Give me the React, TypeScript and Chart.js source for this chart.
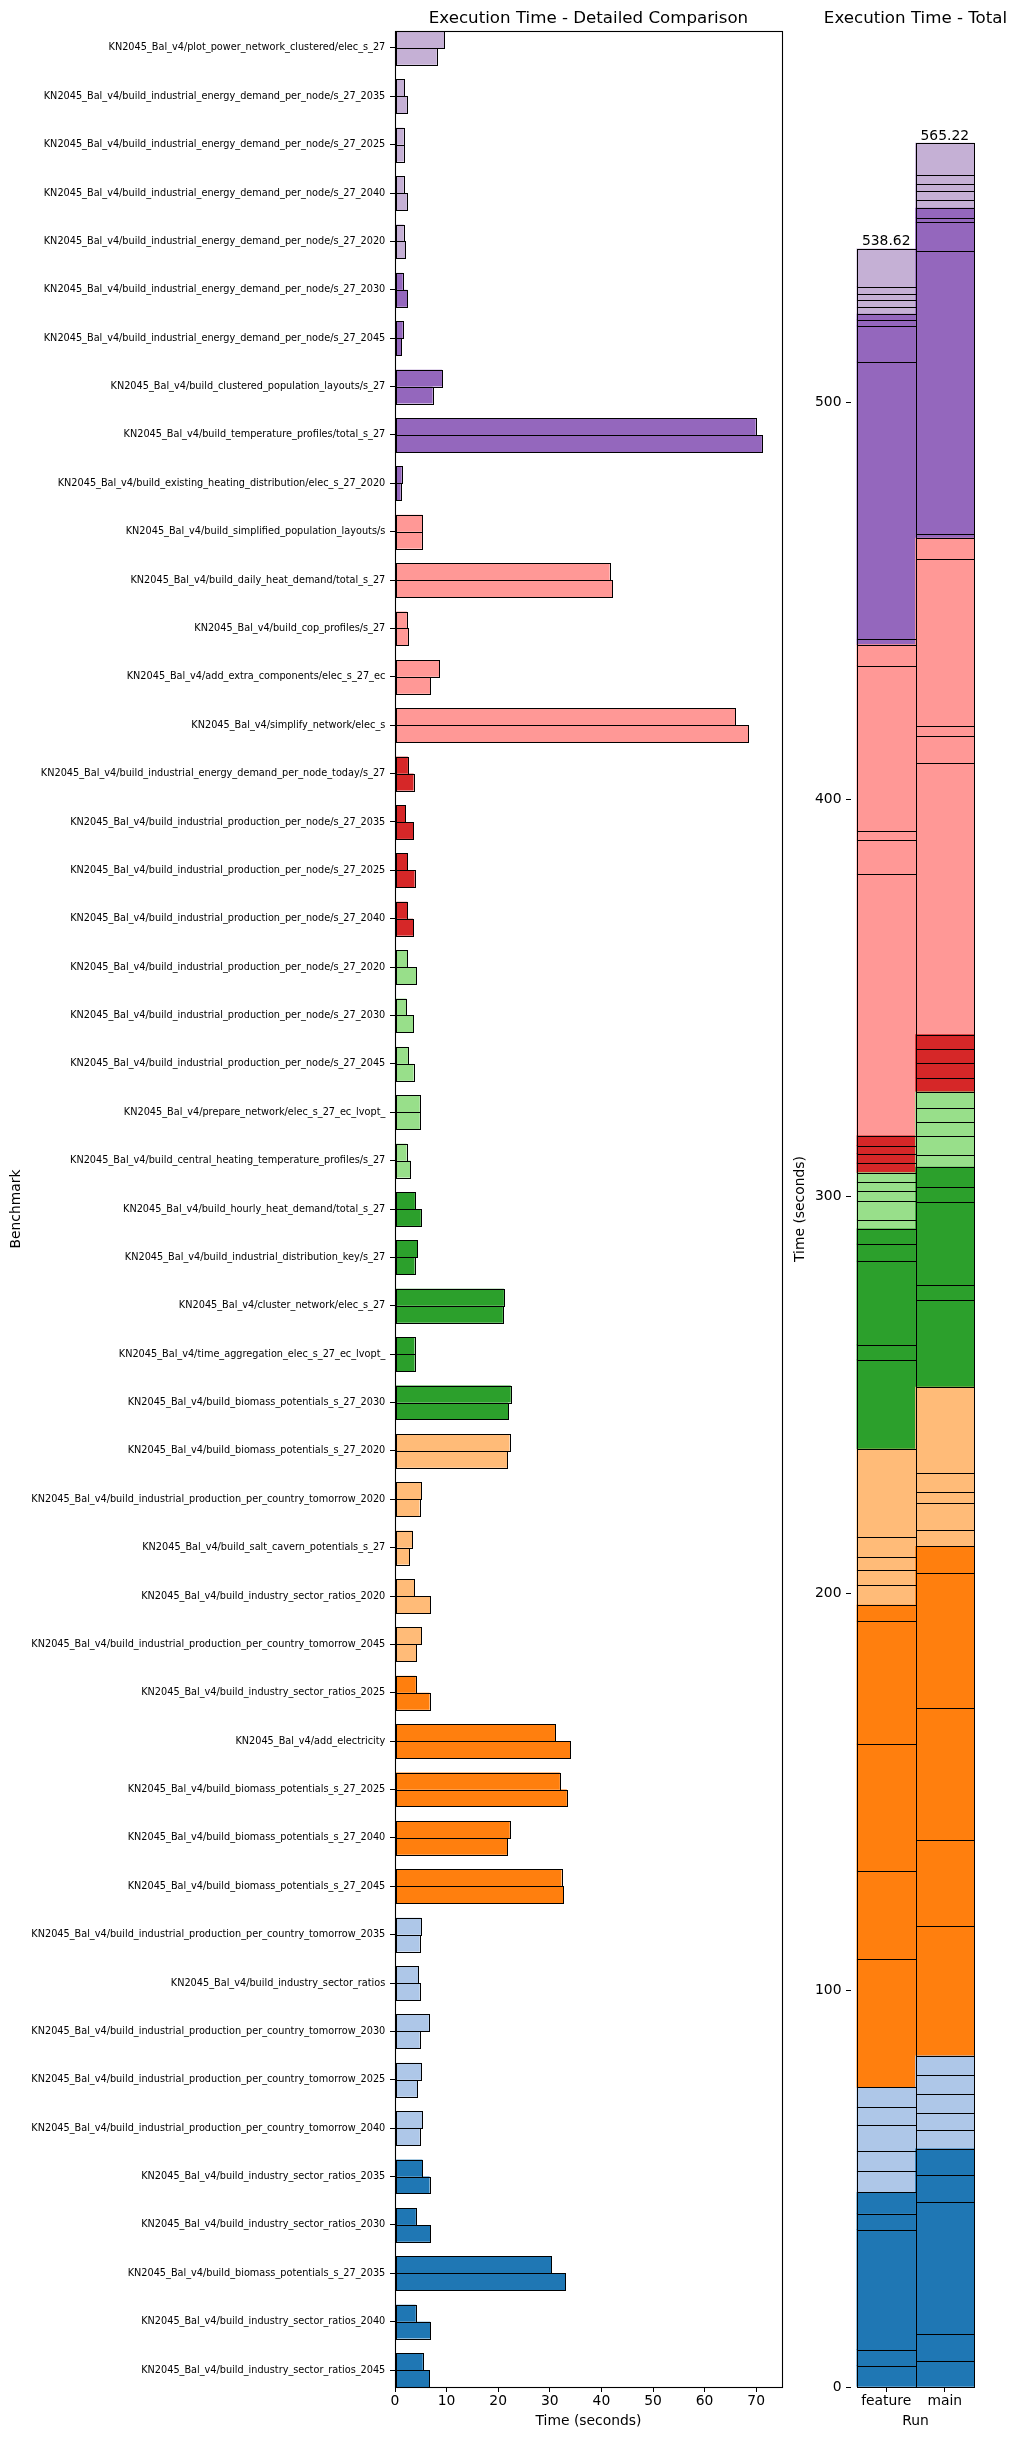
import React, { useEffect, useRef } from "react";
import { Chart, registerables } from "chart.js";

Chart.register(...registerables);

// ---------------- data ----------------
const BENCHMARKS: string[] = [
  "KN2045_Bal_v4/plot_power_network_clustered/elec_s_27",
  "KN2045_Bal_v4/build_industrial_energy_demand_per_node/s_27_2035",
  "KN2045_Bal_v4/build_industrial_energy_demand_per_node/s_27_2025",
  "KN2045_Bal_v4/build_industrial_energy_demand_per_node/s_27_2040",
  "KN2045_Bal_v4/build_industrial_energy_demand_per_node/s_27_2020",
  "KN2045_Bal_v4/build_industrial_energy_demand_per_node/s_27_2030",
  "KN2045_Bal_v4/build_industrial_energy_demand_per_node/s_27_2045",
  "KN2045_Bal_v4/build_clustered_population_layouts/s_27",
  "KN2045_Bal_v4/build_temperature_profiles/total_s_27",
  "KN2045_Bal_v4/build_existing_heating_distribution/elec_s_27_2020",
  "KN2045_Bal_v4/build_simplified_population_layouts/s",
  "KN2045_Bal_v4/build_daily_heat_demand/total_s_27",
  "KN2045_Bal_v4/build_cop_profiles/s_27",
  "KN2045_Bal_v4/add_extra_components/elec_s_27_ec",
  "KN2045_Bal_v4/simplify_network/elec_s",
  "KN2045_Bal_v4/build_industrial_energy_demand_per_node_today/s_27",
  "KN2045_Bal_v4/build_industrial_production_per_node/s_27_2035",
  "KN2045_Bal_v4/build_industrial_production_per_node/s_27_2025",
  "KN2045_Bal_v4/build_industrial_production_per_node/s_27_2040",
  "KN2045_Bal_v4/build_industrial_production_per_node/s_27_2020",
  "KN2045_Bal_v4/build_industrial_production_per_node/s_27_2030",
  "KN2045_Bal_v4/build_industrial_production_per_node/s_27_2045",
  "KN2045_Bal_v4/prepare_network/elec_s_27_ec_lvopt_",
  "KN2045_Bal_v4/build_central_heating_temperature_profiles/s_27",
  "KN2045_Bal_v4/build_hourly_heat_demand/total_s_27",
  "KN2045_Bal_v4/build_industrial_distribution_key/s_27",
  "KN2045_Bal_v4/cluster_network/elec_s_27",
  "KN2045_Bal_v4/time_aggregation_elec_s_27_ec_lvopt_",
  "KN2045_Bal_v4/build_biomass_potentials_s_27_2030",
  "KN2045_Bal_v4/build_biomass_potentials_s_27_2020",
  "KN2045_Bal_v4/build_industrial_production_per_country_tomorrow_2020",
  "KN2045_Bal_v4/build_salt_cavern_potentials_s_27",
  "KN2045_Bal_v4/build_industry_sector_ratios_2020",
  "KN2045_Bal_v4/build_industrial_production_per_country_tomorrow_2045",
  "KN2045_Bal_v4/build_industry_sector_ratios_2025",
  "KN2045_Bal_v4/add_electricity",
  "KN2045_Bal_v4/build_biomass_potentials_s_27_2025",
  "KN2045_Bal_v4/build_biomass_potentials_s_27_2040",
  "KN2045_Bal_v4/build_biomass_potentials_s_27_2045",
  "KN2045_Bal_v4/build_industrial_production_per_country_tomorrow_2035",
  "KN2045_Bal_v4/build_industry_sector_ratios",
  "KN2045_Bal_v4/build_industrial_production_per_country_tomorrow_2030",
  "KN2045_Bal_v4/build_industrial_production_per_country_tomorrow_2025",
  "KN2045_Bal_v4/build_industrial_production_per_country_tomorrow_2040",
  "KN2045_Bal_v4/build_industry_sector_ratios_2035",
  "KN2045_Bal_v4/build_industry_sector_ratios_2030",
  "KN2045_Bal_v4/build_biomass_potentials_s_27_2035",
  "KN2045_Bal_v4/build_industry_sector_ratios_2040",
  "KN2045_Bal_v4/build_industry_sector_ratios_2045",
];

const FEATURE_TIMES: number[] = [
  9.5, 1.8, 1.7, 1.7, 1.7, 1.5, 1.5, 9.1, 69.9, 1.3,
  5.3, 41.6, 2.3, 8.6, 65.9,
  2.5, 2.0, 2.4, 2.4,
  2.4, 2.2, 2.5, 4.8, 2.25,
  3.85, 4.3, 21.1, 3.78, 22.43,
  22.2, 5.03, 3.37, 3.7, 5.03,
  4.03, 31.0, 31.95, 22.24, 32.27,
  5.03, 4.54, 6.56, 5.04, 5.3,
  5.3, 4.04, 30.25, 4.03, 5.38,
];

const MAIN_TIMES: number[] = [
  8.1, 2.3, 1.7, 2.3, 2.0, 2.4, 1.2, 7.3, 71.1, 1.1,
  5.2, 42.1, 2.5, 6.8, 68.5,
  3.6, 3.5, 3.8, 3.5,
  4.1, 3.5, 3.6, 4.8, 3.0,
  5.0, 3.8, 20.9, 3.8, 21.9,
  21.7, 4.75, 2.78, 6.8, 4.1,
  6.7, 34.0, 33.3, 21.7, 32.6,
  4.79, 4.79, 4.79, 4.27, 4.8,
  6.7, 6.82, 33.03, 6.81, 6.64,
];

const RUNS: string[] = ["feature", "main"];
const RUN_TOTALS: number[] = [538.62, 565.22];
const TIME_TICKS: number[] = [0, 10, 20, 30, 40, 50, 60, 70];
const TOTAL_TICKS: number[] = [0, 100, 200, 300, 400, 500];

// ---------------- styles ----------------
const COLOR_BLOCKS: [string, number][] = [
  ["#c5b0d5", 5],
  ["#9467bd", 5],
  ["#ff9896", 5],
  ["#d62728", 4],
  ["#98df8a", 5],
  ["#2ca02c", 5],
  ["#ffbb78", 5],
  ["#ff7f0e", 5],
  ["#aec7e8", 5],
  ["#1f77b4", 5],
];
const ROW_COLORS: string[] = COLOR_BLOCKS.flatMap(([c, n]) => Array(n).fill(c));

const FONT = "'DejaVu Sans', sans-serif";
const FS_TICK = 13.89;
const FS_SMALL = 9.72;
const FS_TITLE = 16.67;

const PAGE_W = 1017;
const PAGE_H = 2440;
const PLOT_TOP = 31;
const PLOT_BOTTOM = 2387;
const LEFT_CANVAS_W = 790;
const LEFT_PLOT_L = 395;
const LEFT_PLOT_R = 782;
const RIGHT_CANVAS_X = 780;
const RIGHT_CANVAS_W = PAGE_W - RIGHT_CANVAS_X;
const RIGHT_PLOT_L = 851;
const RIGHT_PLOT_R = 980;
const ROW_HALF_PAD = 0.35;

const tickGrid = {
  display: true,
  drawOnChartArea: false,
  drawTicks: true,
  tickLength: 5,
  color: "#000",
  lineWidth: 1,
  offset: false,
};

// ---------------- plugins ----------------
const outlinePlugin = {
  id: "barOutline",
  afterDatasetsDraw(chart: any) {
    const ctx = chart.ctx;
    ctx.save();
    ctx.strokeStyle = "#000";
    ctx.lineWidth = 1;
    chart.data.datasets.forEach((_: any, di: number) => {
      const meta = chart.getDatasetMeta(di);
      meta.data.forEach((el: any) => {
        const p = el.getProps(["x", "y", "base", "width", "height", "horizontal"], true);
        let l: number, r: number, t: number, b: number;
        if (p.horizontal) {
          l = Math.min(p.x, p.base);
          r = Math.max(p.x, p.base);
          t = p.y - p.height / 2;
          b = p.y + p.height / 2;
        } else {
          l = p.x - p.width / 2;
          r = p.x + p.width / 2;
          t = Math.min(p.y, p.base);
          b = Math.max(p.y, p.base);
        }
        const L = Math.round(l), R = Math.round(r), T = Math.round(t), B = Math.round(b);
        ctx.strokeRect(L + 0.5, T + 0.5, R - L, B - T);
      });
    });
    ctx.restore();
  },
};

const framePlugin = {
  id: "frame",
  afterDraw(chart: any) {
    const { ctx, chartArea: a } = chart;
    ctx.save();
    ctx.strokeStyle = "#000";
    ctx.lineWidth = 1.1;
    const L = Math.round(a.left), R = Math.round(a.right), T = Math.round(a.top), B = Math.round(a.bottom);
    ctx.strokeRect(L + 0.5, T + 0.5, R - L, B - T);
    ctx.restore();
  },
};

const makeTitlePlugin = (text: string) => ({
  id: "topTitle",
  afterDraw(chart: any) {
    const { ctx, chartArea: a } = chart;
    ctx.save();
    ctx.font = `${FS_TITLE}px ${FONT}`;
    ctx.fillStyle = "#000";
    ctx.textAlign = "center";
    ctx.textBaseline = "alphabetic";
    ctx.fillText(text, (a.left + a.right) / 2, a.top - 8.3);
    ctx.restore();
  },
});

const totalsPlugin = {
  id: "totals",
  afterDatasetsDraw(chart: any) {
    const { ctx } = chart;
    const xs = chart.scales.x;
    const ys = chart.scales.y;
    ctx.save();
    ctx.font = `${FS_TICK}px ${FONT}`;
    ctx.fillStyle = "#000";
    ctx.textAlign = "center";
    ctx.textBaseline = "alphabetic";
    RUN_TOTALS.forEach((t, i) => {
      ctx.fillText(t.toFixed(2), xs.getPixelForValue(i), ys.getPixelForValue(t) - 3.3);
    });
    ctx.restore();
  },
};

export default function App() {
  const leftRef = useRef<HTMLCanvasElement | null>(null);
  const rightRef = useRef<HTMLCanvasElement | null>(null);

  useEffect(() => {
    if (!leftRef.current || !rightRef.current) return;
    const n = BENCHMARKS.length;

    const leftChart = new Chart(leftRef.current, {
      type: "bar",
      data: {
        datasets: [
          {
            label: RUNS[0],
            data: FEATURE_TIMES.map((v, i) => ({ x: v, y: i })),
            backgroundColor: ROW_COLORS,
            borderWidth: 0,
            categoryPercentage: 0.7,
            barPercentage: 1,
          } as any,
          {
            label: RUNS[1],
            data: MAIN_TIMES.map((v, i) => ({ x: v, y: i })),
            backgroundColor: ROW_COLORS,
            borderWidth: 0,
            categoryPercentage: 0.7,
            barPercentage: 1,
          } as any,
        ],
      },
      options: {
        indexAxis: "y",
        responsive: false,
        animation: false,
        layout: {
          autoPadding: false,
          padding: { top: PLOT_TOP, left: 0, right: LEFT_CANVAS_W - LEFT_PLOT_R, bottom: 0 },
        },
        plugins: {
          legend: { display: false },
          tooltip: { enabled: false },
          title: { display: false },
        },
        scales: {
          y: {
            type: "linear",
            reverse: true,
            offset: false,
            min: -ROW_HALF_PAD,
            max: n - 1 + ROW_HALF_PAD,
            grid: tickGrid as any,
            border: { display: false },
            afterBuildTicks: (axis: any) => {
              axis.ticks = BENCHMARKS.map((_, i) => ({ value: i }));
            },
            afterFit: (axis: any) => {
              axis.width = LEFT_PLOT_L;
            },
            ticks: {
              autoSkip: false,
              color: "#000",
              padding: 4.7,
              font: { family: FONT, size: FS_SMALL },
              callback: (v: any) => BENCHMARKS[Math.round(Number(v))],
            },
            title: {
              display: true,
              text: "Benchmark",
              color: "#000",
              font: { family: FONT, size: FS_TICK },
              padding: { top: 8.5, bottom: 0 },
            },
          },
          x: {
            type: "linear",
            min: 0,
            max: 75,
            offset: false,
            grid: tickGrid as any,
            border: { display: false },
            afterBuildTicks: (axis: any) => {
              axis.ticks = TIME_TICKS.map((v) => ({ value: v }));
            },
            afterFit: (axis: any) => {
              axis.height = PAGE_H - PLOT_BOTTOM;
            },
            ticks: {
              color: "#000",
              padding: 1.5,
              maxRotation: 0,
              autoSkip: false,
              font: { family: FONT, size: FS_TICK },
            },
            title: {
              display: true,
              text: "Time (seconds)",
              color: "#000",
              font: { family: FONT, size: FS_TICK },
              padding: { top: 0, bottom: 10 },
            },
          },
        },
      } as any,
      plugins: [outlinePlugin, framePlugin, makeTitlePlugin("Execution Time - Detailed Comparison")],
    });

    const stackDatasets: any[] = [];
    for (let i = n - 1; i >= 0; i--) {
      stackDatasets.push({
        label: BENCHMARKS[i],
        data: [
          { x: 0, y: FEATURE_TIMES[i] },
          { x: 1, y: MAIN_TIMES[i] },
        ],
        backgroundColor: ROW_COLORS[i],
        borderWidth: 0,
        barPercentage: 1,
        categoryPercentage: 1,
        stack: "runs",
      });
    }

    const rightChart = new Chart(rightRef.current, {
      type: "bar",
      data: { datasets: stackDatasets },
      options: {
        responsive: false,
        animation: false,
        layout: {
          autoPadding: false,
          padding: { top: PLOT_TOP, left: 0, right: RIGHT_CANVAS_W - (RIGHT_PLOT_R - RIGHT_CANVAS_X), bottom: 0 },
        },
        plugins: {
          legend: { display: false },
          tooltip: { enabled: false },
          title: { display: false },
        },
        scales: {
          x: {
            type: "linear",
            stacked: true,
            offset: false,
            min: -0.6,
            max: RUNS.length - 1 + 0.6,
            grid: tickGrid as any,
            border: { display: false },
            afterBuildTicks: (axis: any) => {
              axis.ticks = RUNS.map((_, i) => ({ value: i }));
            },
            afterFit: (axis: any) => {
              axis.height = PAGE_H - PLOT_BOTTOM;
            },
            ticks: {
              color: "#000",
              padding: 1.5,
              maxRotation: 0,
              autoSkip: false,
              font: { family: FONT, size: FS_TICK },
              callback: (v: any) => RUNS[Math.round(Number(v))],
            },
            title: {
              display: true,
              text: "Run",
              color: "#000",
              font: { family: FONT, size: FS_TICK },
              padding: { top: 0, bottom: 10 },
            },
          },
          y: {
            type: "linear",
            stacked: true,
            min: 0,
            max: Math.max(...RUN_TOTALS) * 1.05,
            grid: tickGrid as any,
            border: { display: false },
            afterBuildTicks: (axis: any) => {
              axis.ticks = TOTAL_TICKS.map((v) => ({ value: v }));
            },
            afterFit: (axis: any) => {
              axis.width = RIGHT_PLOT_L - RIGHT_CANVAS_X;
            },
            ticks: {
              color: "#000",
              padding: 4.5,
              autoSkip: false,
              font: { family: FONT, size: FS_TICK },
            },
            title: {
              display: true,
              text: "Time (seconds)",
              color: "#000",
              font: { family: FONT, size: FS_TICK },
              padding: { top: 11.7, bottom: 0 },
            },
          },
        },
      } as any,
      plugins: [outlinePlugin, totalsPlugin, makeTitlePlugin("Execution Time - Total")],
    });

    return () => {
      leftChart.destroy();
      rightChart.destroy();
    };
  }, []);

  return (
    <div
      style={{
        position: "absolute",
        left: 0,
        top: 0,
        width: PAGE_W,
        height: PAGE_H,
        background: "#fff",
        overflow: "hidden",
      }}
    >
      <canvas
        ref={leftRef}
        width={LEFT_CANVAS_W}
        height={PAGE_H}
        style={{ position: "absolute", left: 0, top: 0, width: LEFT_CANVAS_W, height: PAGE_H }}
      />
      <canvas
        ref={rightRef}
        width={RIGHT_CANVAS_W}
        height={PAGE_H}
        style={{ position: "absolute", left: RIGHT_CANVAS_X, top: 0, width: RIGHT_CANVAS_W, height: PAGE_H }}
      />
    </div>
  );
}
